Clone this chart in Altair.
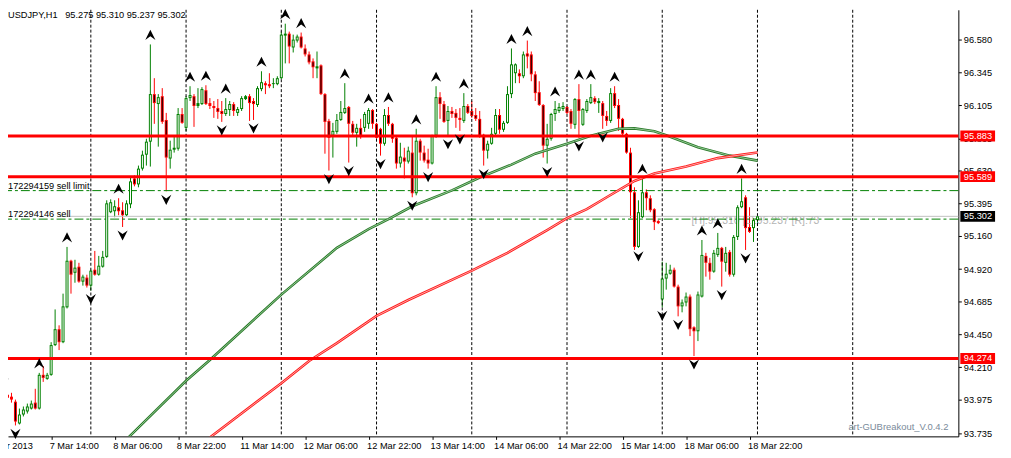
import altair as alt
import pandas as pd
import numpy as np

FONT = "Liberation Sans"
FS = 9.3

# ---------------- candle data (H1 bars, bar 0 = 8 Mar 00:00) ----------------
FIRST_BAR = -22
OPEN = [
    93.912, 94.012, 93.998, 93.962, 93.804, 93.869, 93.891, 93.912, 93.955, 93.912,
    94.156, 94.127, 94.156, 94.371, 94.486, 94.392, 94.644, 94.981, 94.894, 94.938,
    94.830, 94.859, 94.801, 94.916, 94.880, 94.938, 95.009, 95.332, 95.339, 95.368,
    95.346, 95.310, 95.389, 95.576, 95.533, 95.647, 95.748, 95.842, 96.186, 96.114,
    96.171, 95.999, 95.720, 95.784, 95.791, 96.042, 95.942, 96.157, 96.171, 96.100,
    96.114, 96.214, 96.121, 96.100, 96.085, 96.064, 96.042, 96.071, 96.114, 96.050,
    96.078, 96.150, 96.171, 96.136, 96.107, 96.222, 96.265, 96.258, 96.258, 96.258,
    96.301, 96.609, 96.623, 96.523, 96.573, 96.602, 96.516, 96.473, 96.423, 96.372,
    96.394, 96.186, 95.992, 95.885, 95.913, 95.999, 96.050, 96.093, 95.971, 95.906,
    95.942, 95.942, 95.971, 96.071, 95.971, 95.935, 95.827, 96.035, 95.971, 95.870,
    95.684, 95.727, 95.698, 95.763, 95.469, 95.849, 95.763, 95.712, 95.684, 95.885,
    96.164, 96.114, 95.992, 96.064, 96.050, 96.014, 95.992, 96.100, 96.064, 96.035,
    96.007, 95.892, 95.777, 95.827, 95.899, 96.035, 95.928, 95.978, 96.186, 96.337,
    96.337, 96.315, 96.480, 96.473, 96.329, 96.200, 96.107, 95.813, 95.863, 96.042,
    96.064, 96.078, 96.093, 96.064, 95.964, 96.150, 95.964, 96.064, 96.121, 96.157,
    96.121, 96.121, 96.028, 95.992, 96.193, 96.107, 96.007, 95.899, 95.763, 95.476,
    95.081, 95.296, 95.476, 95.433, 95.354, 95.268, 94.701, 94.852, 94.887, 94.916,
    94.794, 94.651, 94.679, 94.722, 94.500, 94.471, 94.722, 95.016, 94.966, 94.902,
    95.023, 95.074, 94.966, 95.045, 94.880, 95.153, 95.368, 95.440, 95.225, 95.217,
    95.275,
]
HIGH = [
    94.091, 94.048, 94.026, 93.977, 93.912, 93.927, 93.948, 93.970, 94.055, 94.170,
    94.220, 94.170, 94.392, 94.629, 94.514, 94.743, 95.081, 94.988, 94.988, 94.966,
    94.880, 94.880, 94.916, 95.052, 95.016, 95.052, 95.418, 95.425, 95.418, 95.433,
    95.404, 95.418, 95.590, 95.598, 95.669, 95.777, 95.863, 96.545, 96.301, 96.186,
    96.229, 96.050, 95.849, 95.885, 96.085, 96.085, 96.171, 96.243, 96.186, 96.229,
    96.236, 96.250, 96.157, 96.136, 96.150, 96.136, 96.157, 96.136, 96.128, 96.093,
    96.171, 96.179, 96.186, 96.157, 96.243, 96.351, 96.279, 96.337, 96.301, 96.315,
    96.638, 96.695, 96.638, 96.616, 96.616, 96.631, 96.545, 96.494, 96.444, 96.494,
    96.401, 96.193, 96.007, 95.978, 96.042, 96.136, 96.265, 96.100, 95.992, 95.971,
    96.007, 96.057, 96.085, 96.078, 95.978, 95.942, 96.078, 96.093, 95.978, 95.885,
    95.834, 95.798, 95.806, 95.885, 95.935, 95.863, 95.813, 95.791, 95.892, 96.243,
    96.200, 96.136, 96.100, 96.093, 96.078, 96.085, 96.193, 96.114, 96.136, 96.085,
    96.064, 95.899, 95.849, 95.942, 96.078, 96.078, 95.992, 96.243, 96.516, 96.408,
    96.365, 96.494, 96.573, 96.494, 96.351, 96.279, 96.114, 95.971, 96.050, 96.136,
    96.121, 96.128, 96.100, 96.078, 96.157, 96.258, 96.085, 96.150, 96.258, 96.171,
    96.157, 96.136, 96.064, 96.229, 96.243, 96.150, 96.014, 95.906, 95.798, 95.512,
    95.418, 95.576, 95.497, 95.454, 95.361, 95.275, 94.974, 94.966, 94.952, 94.931,
    94.808, 94.701, 94.751, 94.737, 94.507, 94.758, 95.131, 95.038, 95.002, 95.059,
    95.182, 95.081, 95.081, 95.059, 95.167, 95.382, 95.576, 95.454, 95.368, 95.289,
    95.310,
]
LOW = [
    93.898, 93.977, 93.955, 93.790, 93.797, 93.855, 93.876, 93.905, 93.905, 93.905,
    94.105, 94.120, 94.149, 94.364, 94.335, 94.385, 94.636, 94.743, 94.822, 94.822,
    94.801, 94.787, 94.765, 94.873, 94.873, 94.931, 95.002, 95.325, 95.296, 95.310,
    95.225, 95.303, 95.361, 95.519, 95.512, 95.633, 95.669, 95.662, 95.971, 95.806,
    95.971, 95.483, 95.647, 95.763, 95.777, 95.971, 95.920, 96.136, 95.949, 96.085,
    96.107, 96.107, 96.078, 96.014, 96.007, 95.985, 96.028, 96.028, 96.028, 96.028,
    96.064, 96.143, 95.992, 95.999, 96.093, 96.207, 96.186, 96.229, 96.229, 96.250,
    96.294, 96.408, 96.408, 96.487, 96.559, 96.516, 96.458, 96.401, 96.301, 96.301,
    96.179, 95.755, 95.633, 95.727, 95.899, 95.992, 96.042, 95.691, 95.885, 95.806,
    95.863, 95.913, 95.935, 95.935, 95.863, 95.741, 95.813, 95.956, 95.834, 95.647,
    95.655, 95.576, 95.684, 95.440, 95.454, 95.705, 95.691, 95.647, 95.677, 95.870,
    96.007, 95.978, 95.885, 96.014, 95.942, 95.920, 95.978, 96.042, 96.014, 95.992,
    95.870, 95.669, 95.720, 95.820, 95.885, 95.899, 95.913, 95.971, 96.157, 96.265,
    96.265, 96.301, 96.372, 96.279, 96.136, 96.100, 95.727, 95.684, 95.849, 95.992,
    96.050, 96.064, 96.042, 95.935, 95.935, 95.870, 95.956, 96.050, 96.114, 96.114,
    96.050, 95.935, 95.956, 95.978, 96.085, 95.920, 95.885, 95.755, 95.289, 95.059,
    95.074, 95.289, 95.346, 95.332, 95.203, 95.246, 94.644, 94.772, 94.880, 94.787,
    94.579, 94.608, 94.651, 94.436, 94.292, 94.400, 94.715, 94.866, 94.844, 94.894,
    95.009, 94.794, 94.902, 94.866, 94.866, 95.131, 95.361, 95.059, 95.182, 95.117,
    95.237,
]
CLOSE = [
    94.019, 93.990, 93.977, 93.818, 93.869, 93.905, 93.927, 93.948, 93.912, 94.156,
    94.134, 94.156, 94.371, 94.486, 94.392, 94.651, 94.981, 94.880, 94.931, 94.830,
    94.866, 94.801, 94.909, 94.880, 94.945, 95.009, 95.396, 95.404, 95.375, 95.339,
    95.310, 95.396, 95.555, 95.533, 95.647, 95.748, 95.842, 96.186, 96.121, 96.164,
    95.985, 95.727, 95.784, 95.798, 96.042, 95.978, 96.157, 96.179, 96.100, 96.121,
    96.222, 96.114, 96.100, 96.085, 96.057, 96.042, 96.078, 96.114, 96.064, 96.078,
    96.157, 96.171, 96.121, 96.114, 96.229, 96.272, 96.250, 96.243, 96.265, 96.301,
    96.616, 96.623, 96.530, 96.580, 96.602, 96.523, 96.473, 96.415, 96.380, 96.387,
    96.186, 95.985, 95.870, 95.920, 95.999, 96.057, 96.085, 95.971, 95.906, 95.942,
    95.885, 96.042, 96.071, 95.971, 95.870, 95.827, 96.035, 95.971, 95.863, 95.684,
    95.734, 95.698, 95.777, 95.469, 95.849, 95.763, 95.705, 95.684, 95.885, 96.164,
    96.114, 95.985, 96.064, 96.042, 96.014, 95.999, 96.100, 96.050, 96.028, 96.007,
    95.885, 95.777, 95.827, 95.899, 96.035, 95.928, 95.978, 96.186, 96.401, 96.401,
    96.315, 96.473, 96.458, 96.329, 96.193, 96.107, 95.813, 95.863, 96.042, 96.078,
    96.093, 96.100, 96.050, 95.971, 96.150, 96.064, 96.078, 96.136, 96.164, 96.128,
    96.136, 96.028, 95.992, 96.193, 96.100, 96.007, 95.899, 95.763, 95.476, 95.081,
    95.332, 95.476, 95.433, 95.346, 95.260, 95.253, 94.852, 94.887, 94.916, 94.794,
    94.651, 94.679, 94.722, 94.486, 94.471, 94.737, 95.023, 94.966, 94.902, 95.038,
    95.074, 94.974, 95.038, 94.880, 95.153, 95.368, 95.411, 95.217, 95.189, 95.275,
    95.302,
]
BARS = list(range(FIRST_BAR, FIRST_BAR + len(OPEN)))

UP_FRACTALS = [-22, -13, -6, 7, 15, 25, 29, 34, 43, 49, 53, 64, 70, 75, 82, 87, 94,
               106, 110, 117, 123, 126, 132, 139, 154, 158, 164]
DOWN_FRACTALS = [-19, 0, 8, 19, 33, 41, 60, 65, 73, 81, 85, 90, 93, 99, 115, 123, 129,
                 138, 144, 148, 152, 159, 165]

GREEN_MA_BARS = [9, 10, 24, 30, 48, 62, 70, 75, 81, 91, 98, 106, 112, 120, 126, 133,
                 137, 142, 145, 153, 161, 168]
GREEN_MA_VALS = [93.690, 93.718, 94.113, 94.263, 94.736, 95.074, 95.210, 95.282, 95.375,
                 95.490, 95.583, 95.676, 95.755, 95.827, 95.885, 95.935, 95.938, 95.917,
                 95.888, 95.802, 95.741, 95.705]
RED_MA_BARS = [29, 30, 48, 55, 62, 72, 80, 96, 105, 115, 120, 125, 130, 137, 142, 150,
               158, 168]
RED_MA_VALS = [93.681, 93.703, 94.095, 94.256, 94.385, 94.582, 94.697, 94.909, 95.038,
               95.203, 95.289, 95.354, 95.440, 95.558, 95.612, 95.662, 95.723, 95.763]

LEVELS = [95.883, 95.589, 94.274]
ORDER_PRICES = [95.488, 95.282]
ORDER_TEXTS = ["172294159 sell limit", "172294146 sell"]
BID = 95.302
SEPARATORS = [-24, 0, 24, 48, 72, 96, 120, 144, 168, 192]
TIME_BARS = [-26, -10, 6, 22, 38, 54, 70, 86, 102, 118, 134, 150, 166]
TIME_LABELS = ["7 Mar 2013", "7 Mar 14:00", "8 Mar 06:00", "8 Mar 22:00", "11 Mar 14:00",
               "12 Mar 06:00", "12 Mar 22:00", "13 Mar 14:00", "14 Mar 06:00",
               "14 Mar 22:00", "15 Mar 14:00", "18 Mar 06:00", "18 Mar 22:00"]
PRICE_TICKS = [96.815, 96.580, 96.345, 96.105, 95.865, 95.630, 95.395, 95.160, 94.920,
               94.685, 94.450, 94.210, 93.975, 93.735]
HEADER = "USDJPY,H1\u00a0\u00a0 95.275 95.310 95.237 95.302"
INFO = "[H]:95.310 [L]:95.237 [R]:73"
BRAND = "art-GUBreakout_V.0.4.2"

# ---------------- tables ----------------
df = pd.DataFrame({"bar": BARS, "open": OPEN, "high": HIGH, "low": LOW, "close": CLOSE})
df["dir"] = np.where(df["close"] >= df["open"], "up", "down")
df["top"] = df[["open", "close"]].max(axis=1)
df["bot"] = df[["open", "close"]].min(axis=1)
df["inner"] = np.where(df["dir"] == "up", "white", "black")
inner_df = df[(df["top"] - df["bot"]) >= 0.0215]

hi = dict(zip(BARS, HIGH))
lo = dict(zip(BARS, LOW))
up_df = pd.DataFrame({"bar": UP_FRACTALS, "p": [hi[b] for b in UP_FRACTALS]})
dn_df = pd.DataFrame({"bar": DOWN_FRACTALS, "p": [lo[b] for b in DOWN_FRACTALS]})
gma = pd.DataFrame({"bar": GREEN_MA_BARS, "v": GREEN_MA_VALS})
rma = pd.DataFrame({"bar": RED_MA_BARS, "v": RED_MA_VALS})
lev_df = pd.DataFrame({"p": LEVELS, "t": [f"{v:.3f}" for v in LEVELS]})
ord_df = pd.DataFrame({"p": ORDER_PRICES, "t": ORDER_TEXTS})
bid_df = pd.DataFrame({"p": [BID], "t": [f"{BID:.3f}"]})
sep_df = pd.DataFrame({"bar": SEPARATORS})
time_df = pd.DataFrame({"bar": TIME_BARS, "t": TIME_LABELS})
txt_df = pd.DataFrame({"t": [HEADER]})
info_df = pd.DataFrame({"t": [INFO]})
brand_df = pd.DataFrame({"t": [BRAND]})

xs = alt.Scale(domain=[-20.875, 218.625], nice=False, zero=False)
ys = alt.Scale(domain=[93.7110, 96.7956], nice=False, zero=False)

x_axis = alt.Axis(values=TIME_BARS[1:], labels=False, tickSize=3, tickColor="black",
                  domainColor="black", grid=False, title=None)
y_axis = alt.Axis(orient="right", values=PRICE_TICKS, format=".3f", labelFont=FONT,
                  labelFontSize=FS, labelColor="black", tickColor="black", tickSize=3,
                  labelPadding=2, domainColor="black", grid=False, title=None,
                  labelOverlap=False)

X = alt.X("bar:Q", scale=xs, axis=x_axis)
dircol = alt.Color("dir:N", scale=alt.Scale(domain=["up", "down"], range=["#008000", "#ff0000"]),
                   legend=None)


def Y(field):
    return alt.Y(field, scale=ys, axis=y_axis)


info = alt.Chart(info_df).mark_text(align="left", baseline="middle", font=FONT, fontSize=10.5,
                                    color="#b4b4b4").encode(
    x=alt.value(689), y=alt.value(213), text="t:N")

seps = alt.Chart(sep_df).mark_rule(color="black", strokeWidth=1, strokeDash=[3, 2]).encode(x=X)

bid = alt.Chart(bid_df).mark_rule(color="#c0c0c0", strokeWidth=1).encode(
    x=alt.value(52), x2=alt.value(958), y=Y("p:Q"))

orders = alt.Chart(ord_df).mark_rule(color="#008000", strokeWidth=1,
                                     strokeDash=[9, 3, 3, 3]).encode(y=Y("p:Q"))

wicks = alt.Chart(df).mark_rule(strokeWidth=1).encode(
    x=X, y=Y("low:Q"), y2="high:Q", color=dircol)
bodies = alt.Chart(df).mark_rule(strokeWidth=3).encode(
    x=X, y=Y("top:Q"), y2="bot:Q", color=dircol)
inners = alt.Chart(inner_df).mark_rule(strokeWidth=1, yOffset=1, y2Offset=-1).encode(
    x=X, y=Y("top:Q"), y2="bot:Q", color=alt.Color("inner:N", scale=None))

g_out = alt.Chart(gma).mark_line(color="#2a7a2a", strokeWidth=2.6, clip=True).encode(x=X, y=Y("v:Q"))
g_in = alt.Chart(gma).mark_line(color="#b0dcb0", strokeWidth=0.8, clip=True).encode(x=X, y=Y("v:Q"))
r_out = alt.Chart(rma).mark_line(color="#ff1a1a", strokeWidth=2.6, clip=True).encode(x=X, y=Y("v:Q"))
r_in = alt.Chart(rma).mark_line(color="#ffc8c8", strokeWidth=0.8, clip=True).encode(x=X, y=Y("v:Q"))

levels = alt.Chart(lev_df).mark_rule(color="#ff0000", strokeWidth=3).encode(y=Y("p:Q"))

UP_PATH = "M0,-1 L0.9,0.8 L0,0.15 L-0.9,0.8 Z"
DN_PATH = "M0,1 L0.9,-0.8 L0,-0.15 L-0.9,-0.8 Z"
ups = alt.Chart(up_df).mark_point(shape=UP_PATH, filled=True, color="black", size=130,
                                  opacity=1, yOffset=-9).encode(x=X, y=Y("p:Q"))
dns = alt.Chart(dn_df).mark_point(shape=DN_PATH, filled=True, color="black", size=130,
                                  opacity=1, yOffset=8).encode(x=X, y=Y("p:Q"))

order_txt = alt.Chart(ord_df).mark_text(align="left", baseline="alphabetic", font=FONT,
                                        fontSize=FS, color="black", dy=-2).encode(
    x=alt.value(0), y=Y("p:Q"), text="t:N")

header = alt.Chart(txt_df).mark_text(align="left", baseline="top", font=FONT, fontSize=FS,
                                     color="black").encode(x=alt.value(0), y=alt.value(1), text="t:N")

brand = alt.Chart(brand_df).mark_text(align="right", baseline="alphabetic", font=FONT,
                                      fontSize=9.5, color="#7a8a9a").encode(
    x=alt.value(948), y=alt.value(424), text="t:N")

time_lbl = alt.Chart(time_df).mark_text(align="left", baseline="alphabetic", font=FONT,
                                        fontSize=FS, color="black", dx=-1.5).encode(
    x=X, y=alt.value(443), text="t:N")

lev_box = alt.Chart(lev_df).mark_rect(color="#ff0000", yOffset=-5.5, y2Offset=5.5).encode(
    x=alt.value(960), x2=alt.value(995), y=Y("p:Q"), y2="p:Q")
lev_txt = alt.Chart(lev_df).mark_text(align="left", baseline="middle", font=FONT, fontSize=FS,
                                      color="white").encode(
    x=alt.value(963.5), y=Y("p:Q"), text="t:N")
bid_box = alt.Chart(bid_df).mark_rect(color="black", yOffset=-5.5, y2Offset=5.5).encode(
    x=alt.value(960), x2=alt.value(995), y=Y("p:Q"), y2="p:Q")
bid_txt = alt.Chart(bid_df).mark_text(align="left", baseline="middle", font=FONT, fontSize=FS,
                                      color="white").encode(
    x=alt.value(963.5), y=Y("p:Q"), text="t:N")

chart = alt.layer(
    wicks, info, seps, bid, orders, bodies, inners, g_out, g_in, r_out, r_in, levels,
    ups, dns, order_txt, header, brand, time_lbl, lev_box, lev_txt, bid_box, bid_txt,
).properties(
    width=958, height=430,
    autosize=alt.AutoSizeParams(type="none"),
    padding={"left": 0, "top": 0, "right": 45, "bottom": 20},
    background="white",
).configure_view(stroke=None)

chart.save("out.html", embed_options={"renderer": "svg", "actions": False})
